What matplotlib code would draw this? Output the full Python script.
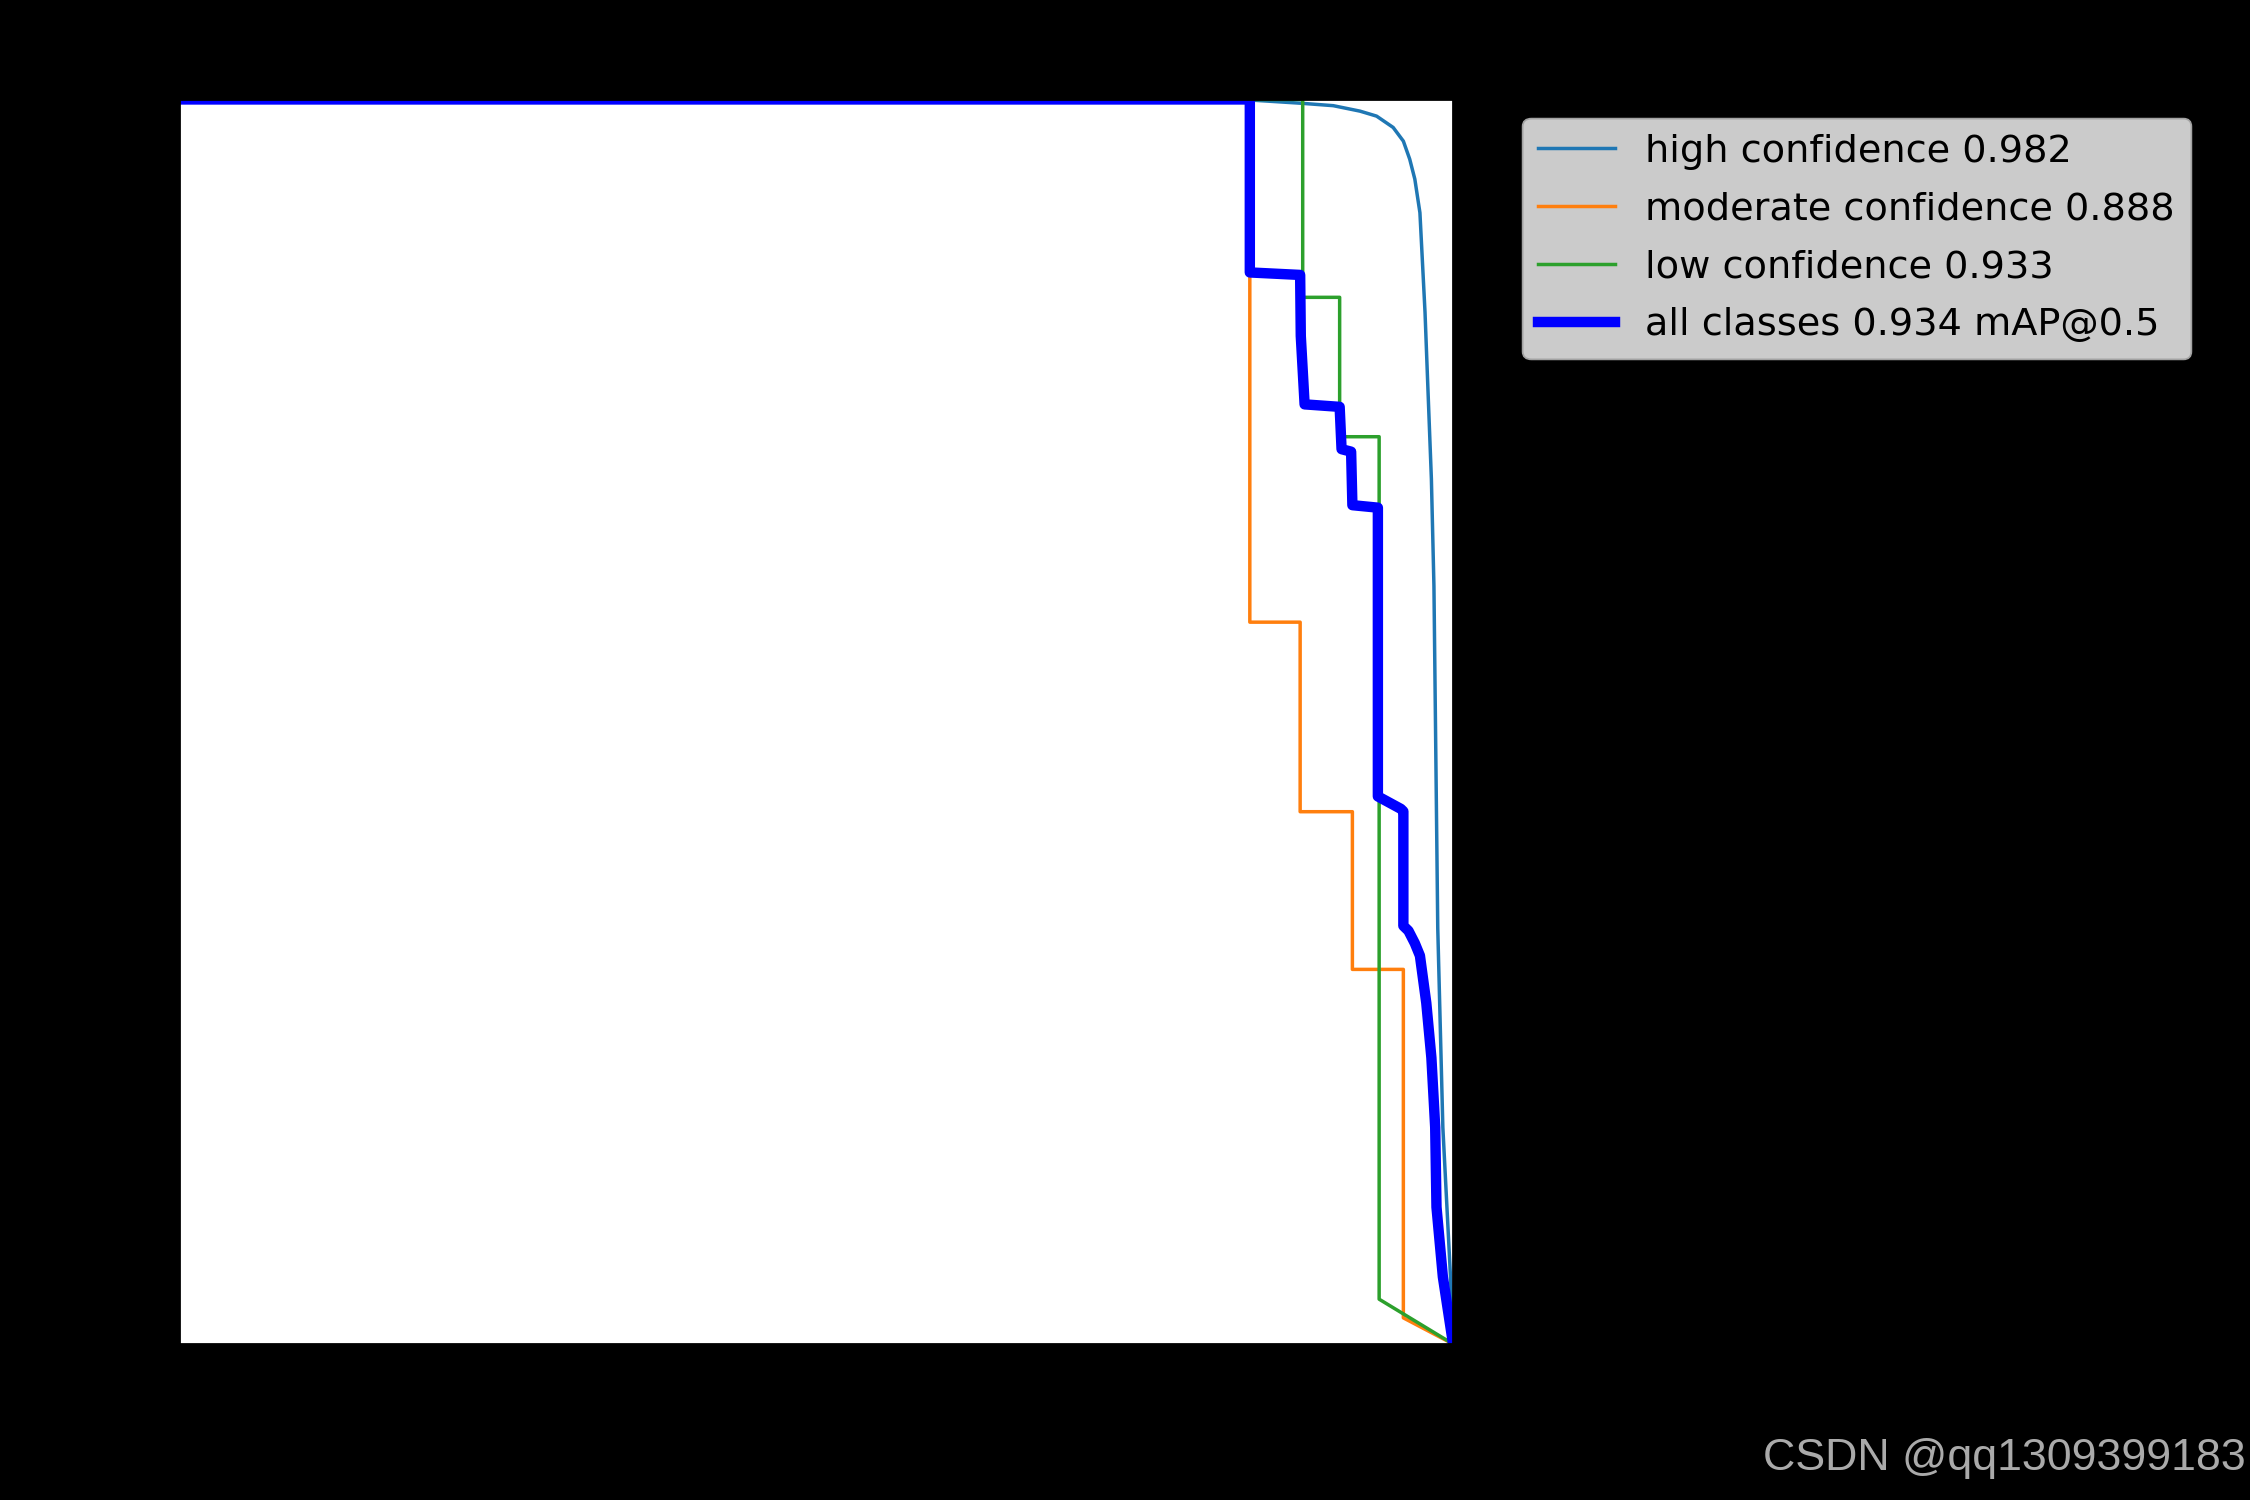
import matplotlib
matplotlib.use('Agg')
import matplotlib.pyplot as plt

matplotlib.rc('font', **{'size': 11})

# PR curve points (recall, precision)
high_r = [0.0, 0.843, 0.880, 0.906, 0.927, 0.940, 0.953, 0.961, 0.966, 0.970,
          0.974, 0.976, 0.978, 0.980, 0.983, 0.985, 0.988, 0.992, 0.998, 1.0]
high_p = [1.0, 0.9994, 0.997, 0.995, 0.9906, 0.9866, 0.9775, 0.9665, 0.952, 0.936,
          0.909, 0.869, 0.829, 0.775, 0.695, 0.609, 0.334, 0.174, 0.054, 0.0]

moderate_r = [0.0, 0.8405, 0.8405, 0.880, 0.880, 0.921, 0.921, 0.961, 0.961, 1.0]
moderate_p = [1.0, 1.0, 0.580, 0.580, 0.4277, 0.4277, 0.301, 0.301, 0.021, 0.0]

low_r = [0.0, 0.882, 0.882, 0.911, 0.911, 0.942, 0.942, 1.0]
low_p = [1.0, 1.0, 0.841, 0.841, 0.729, 0.729, 0.036, 0.0]

all_r = [0.0, 0.8405, 0.8405, 0.880, 0.8805, 0.8835, 0.911, 0.9125, 0.920, 0.921,
         0.941, 0.941, 0.959, 0.961, 0.961, 0.965, 0.970, 0.974, 0.979, 0.983,
         0.986, 0.987, 0.992, 1.0]
all_p = [1.0, 1.0, 0.861, 0.859, 0.810, 0.755, 0.753, 0.719, 0.717, 0.674,
         0.672, 0.440, 0.430, 0.428, 0.336, 0.332, 0.322, 0.312, 0.274, 0.230,
         0.174, 0.110, 0.054, 0.0]

names = ['high confidence', 'moderate confidence', 'low confidence']
ap = [0.982, 0.888, 0.933]
map50 = 0.934

fig = plt.figure(figsize=(9, 6), facecolor='black')
ax = fig.add_axes([0.0795, 0.104, 0.5663, 0.8297])
ax.set_facecolor('white')

curves = [(high_r, high_p), (moderate_r, moderate_p), (low_r, low_p)]
for (r, p), n, a in zip(curves, names, ap):
    ax.plot(r, p, linewidth=1, label=f'{n} {a:.3f}')
ax.plot(all_r, all_p, linewidth=3, color='blue', label=f'all classes {map50:.3f} mAP@0.5')

ax.set_xlabel('Recall')
ax.set_ylabel('Precision')
ax.set_xlim(0, 1)
ax.set_ylim(0, 1)
ax.legend(bbox_to_anchor=(1.04, 1), loc='upper left', framealpha=0.8,
          labelspacing=0.57)

# watermark
fig.text(0.998, 0.0275, 'CSDN @qq1309399183', ha='right', va='center',
         color='#aaaaaa', fontsize=12.9, family='Liberation Sans')

fig.savefig('out.png', dpi=250, facecolor='black')
